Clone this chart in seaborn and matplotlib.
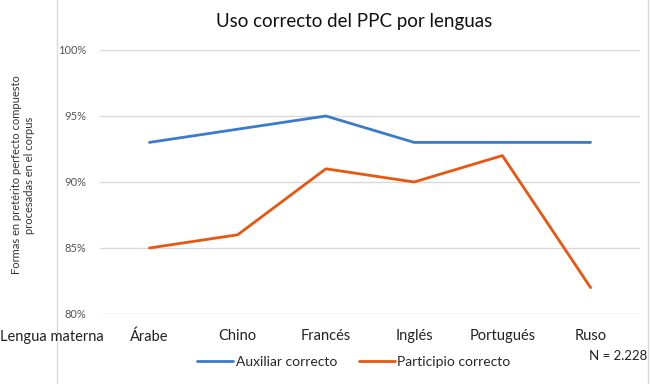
import numpy as np
import pandas as pd
import matplotlib.pyplot as plt
import seaborn as sns
from matplotlib.ticker import FuncFormatter

lenguas = ['Árabe', 'Chino', 'Francés', 'Inglés', 'Portugués', 'Ruso']
auxiliar = [93, 94, 95, 93, 93, 93]
participio = [85, 86, 91, 90, 92, 82]
series = ['Auxiliar correcto', 'Participio correcto']
colores = ['#3b7bcc', '#e8560f']

df = pd.DataFrame({
    'lengua': lenguas * 2,
    'valor': auxiliar + participio,
    'serie': [series[0]] * len(lenguas) + [series[1]] * len(lenguas),
})
df['pos'] = df['lengua'].map({l: i for i, l in enumerate(lenguas)})

sns.set_style('white')
plt.rcParams['font.family'] = ['Lato', 'DejaVu Sans']

fig = plt.figure(figsize=(6.5, 3.84), dpi=100)
ax = fig.add_axes([100 / 650, 1 - 314 / 384, 540 / 650, 264 / 384])

sns.lineplot(data=df, x='pos', y='valor', hue='serie', palette=colores,
             linewidth=2, ax=ax, legend=False)

ax.set_ylim(80, 100)
ax.set_yticks([80, 85, 90, 95, 100])
ax.yaxis.set_major_formatter(FuncFormatter(lambda v, p: f'{v:.0f}%'))
ax.set_xlim(-0.56, 5.56)
ax.set_xticks(range(len(lenguas)))
ax.set_xticklabels(lenguas, fontsize=10.5, color='#222222')
ax.tick_params(axis='y', labelsize=8, colors='#555555', length=0, pad=10)
ax.tick_params(axis='x', length=0, pad=11)
ax.grid(axis='y', color='#d9d9d9', linewidth=1)
ax.set_axisbelow(True)
for s in ax.spines.values():
    s.set_visible(False)
ax.set_xlabel('')
ax.set_ylabel('')

fig.text(354 / 650, 1 - 22 / 384, 'Uso correcto del PPC por lenguas', ha='center',
         va='center', fontsize=13.5, color='#111111')
fig.text(23 / 650, 1 - 175 / 384,
         'Formas en pretérito perfecto compuesto\nprocesadas en el corpus',
         rotation=90, ha='center', va='center', fontsize=8, color='#333333')
fig.text(0, 1 - 337 / 384, 'Lengua materna', ha='left', va='center', fontsize=10.5,
         color='#222222')
fig.text(647 / 650, 1 - 356 / 384, 'N = 2.228', ha='right', va='center', fontsize=9.5,
         color='#222222')

handles = [plt.Line2D([], [], color=c, linewidth=2) for c in colores]
fig.legend(handles, series, loc='center', bbox_to_anchor=(354 / 650, 1 - 362 / 384),
           ncol=2, frameon=False, fontsize=10, handlelength=2.6, handletextpad=0.15,
           columnspacing=1.6)

# borde vertical del área del gráfico
fig.add_artist(plt.Line2D([57 / 650, 57 / 650], [0, 1], color='#d9d9d9', linewidth=1))
fig.add_artist(plt.Line2D([648 / 650, 648 / 650], [0, 1], color='#d9d9d9', linewidth=1))

fig.savefig('out.png', dpi=100)
